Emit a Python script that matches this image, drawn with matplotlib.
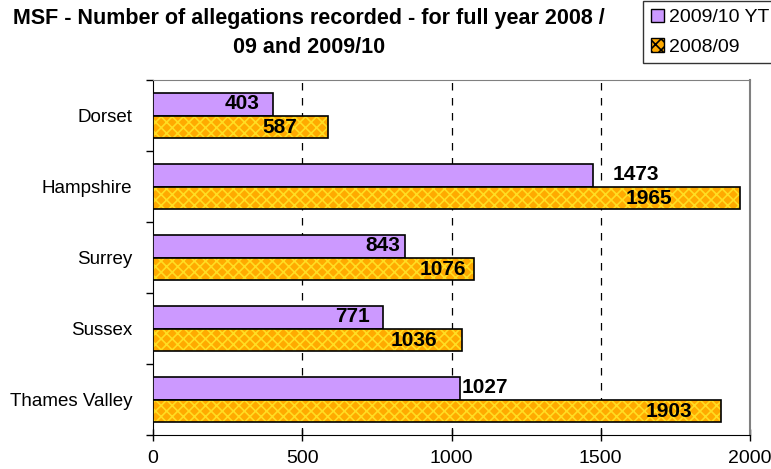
import numpy as np
import matplotlib.pyplot as plt
from matplotlib.patches import Patch

plt.rcParams['font.family'] = ['Liberation Sans', 'DejaVu Sans']

# Data
regions = ['Dorset', 'Hampshire', 'Surrey', 'Sussex', 'Thames Valley']
ytd_2009_10 = [403, 1473, 843, 771, 1027]
full_2008_09 = [587, 1965, 1076, 1036, 1903]
series_names = ['2009/10 YTD', '2008/09']

# label anchors (data units) - labels were hand placed in the original
purple_label_x = [358, 1541, 827, 727, 1035]
purple_label_ha = ['right', 'left', 'right', 'right', 'left']
orange_label_x = [482, 1739, 1049, 951, 1806]

purple = '#CC99FF'
orange = '#FFAA00'
weave = '#FFDD22'

fig = plt.figure(figsize=(7.71, 4.69), dpi=100)
ax = fig.add_axes([153 / 771, 1 - 435 / 469, 597 / 771, 355 / 469])

y = np.arange(len(regions))
h = 0.31

# purple bars (upper of each pair)
ax.barh(y - h / 2, ytd_2009_10, height=h, color=purple, edgecolor='black', linewidth=1.2, zorder=3)
# orange bars with weave hatch, then black outline
plt.rcParams['hatch.linewidth'] = 1.2
ax.barh(y + h / 2, full_2008_09, height=h, color=orange, edgecolor=weave, hatch='xxx', linewidth=0, zorder=3)
ax.barh(y + h / 2, full_2008_09, height=h, fill=False, edgecolor='black', linewidth=1.2, zorder=4)

for i in range(len(regions)):
    ax.text(purple_label_x[i], y[i] - h / 2 - 0.02, str(ytd_2009_10[i]), ha=purple_label_ha[i], va='center',
            fontsize=15, fontweight='bold', zorder=5)
    ax.text(orange_label_x[i], y[i] + h / 2 + 0.02, str(full_2008_09[i]), ha='right', va='center',
            fontsize=15, fontweight='bold', zorder=5)

ax.set_xlim(0, 2000)
ax.set_ylim(len(regions) - 0.5, -0.5)
ax.set_xticks([0, 500, 1000, 1500, 2000])
ax.set_yticks(y)
ax.set_yticklabels(regions)
ax.set_yticks(np.arange(len(regions) + 1) - 0.5, minor=True)
ax.tick_params(axis='y', which='major', length=0, pad=15, labelsize=13.5)
ax.tick_params(axis='y', which='minor', length=5, direction='out', width=1)
ax.tick_params(axis='x', length=8, direction='inout', width=1, labelsize=14, pad=7)

for gx in [500, 1000, 1500]:
    ax.axvline(gx, color='black', linestyle=(0, (6, 6)), linewidth=0.9, zorder=1)

ax.spines['top'].set_color('#808080')
ax.spines['right'].set_color('#808080')
ax.spines['right'].set_linewidth(1.5)
ax.spines['left'].set_color('black')
ax.spines['bottom'].set_color('black')

fig.text(309 / 771, 1 - 33 / 469, 'MSF - Number of allegations recorded - for full year 2008 /\n09 and 2009/10',
         ha='center', va='center', fontsize=15.5, fontweight='bold', linespacing=1.45)

handles = [Patch(facecolor=purple, edgecolor='black', label=series_names[0]),
           Patch(facecolor=orange, edgecolor='black', hatch='xxx', label=series_names[1])]
leg = fig.legend(handles=handles, loc='upper left', bbox_to_anchor=(643 / 771, 1 - 1 / 469),
                 frameon=True, fancybox=False, edgecolor='black', fontsize=14,
                 handlelength=0.7, handleheight=0.7, handletextpad=0.25, borderpad=0.4, labelspacing=0.6,
                 borderaxespad=0)
leg.get_frame().set_linewidth(1.0)

fig.savefig('out.png', dpi=100)
